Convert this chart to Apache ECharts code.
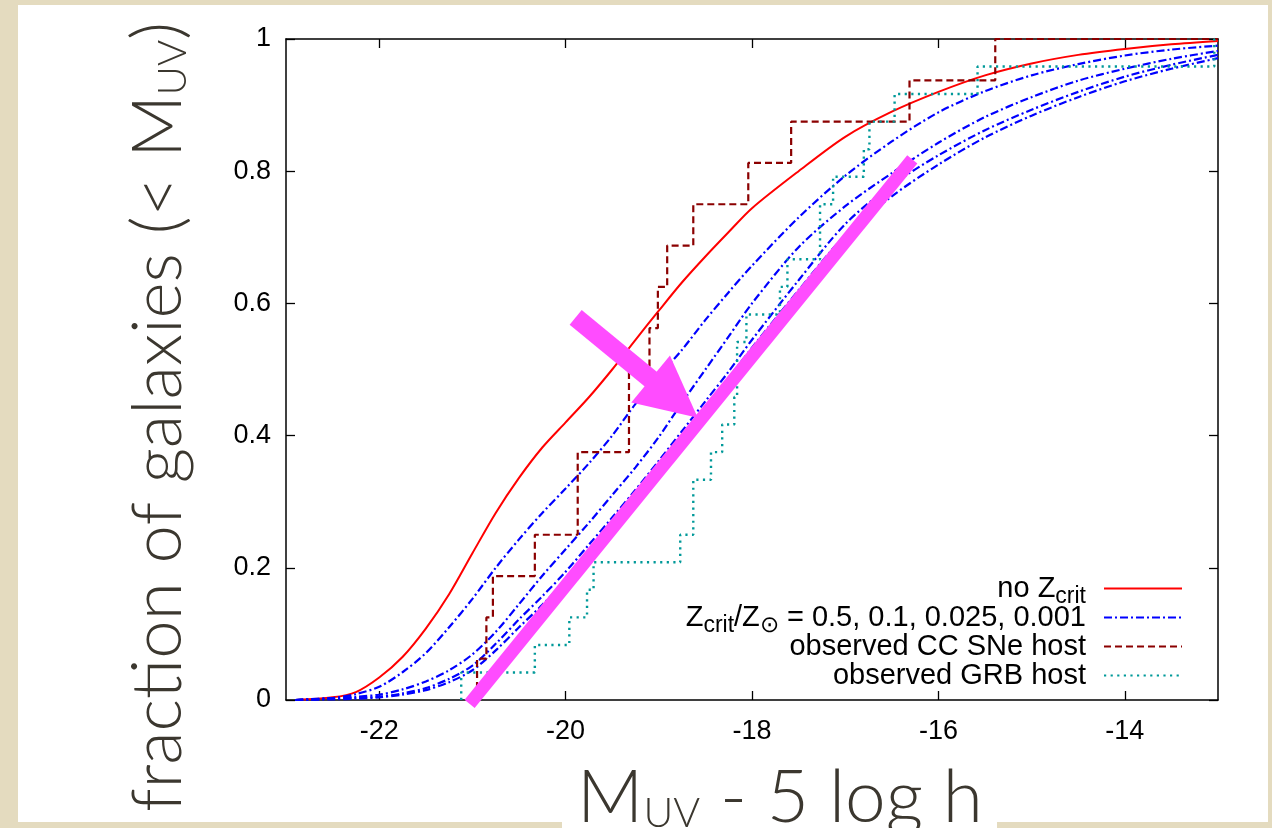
<!DOCTYPE html>
<html><head><meta charset="utf-8">
<script src="https://cdn.jsdelivr.net/npm/echarts@6/dist/echarts.min.js"></script>
<style>
html,body{margin:0;padding:0;width:1272px;height:828px;overflow:hidden;background:#e4dbbf;}
#panel{position:absolute;left:18px;top:5px;width:1250px;height:817px;background:#fff;}
#tbox{position:absolute;left:562px;top:790px;width:435px;height:38px;background:#fff;}
#chart{position:absolute;left:0;top:0;width:1272px;height:828px;}
</style></head><body>
<div id="panel"></div><div id="tbox"></div><div id="chart"></div>
<script>
// ---- data ----
const xTickValues = [-22, -20, -18, -16, -14];

// M_UV grid used for the model curves
const curveX = [-22.9,-22.5,-22.25,-22.0,-21.75,-21.5,-21.25,-21.0,-20.75,-20.5,-20.25,-20.0,-19.75,-19.5,-19.25,-19.0,-18.75,-18.5,-18.25,-18.0,-17.5,-17.0,-16.5,-16.0,-15.5,-15.0,-14.5,-14.0,-13.5,-13.0];

const noZcritY = [0,0.004,0.012,0.034,0.065,0.108,0.16,0.222,0.283,0.336,0.382,0.42,0.458,0.5,0.545,0.589,0.632,0.671,0.708,0.744,0.8,0.852,0.89,0.92,0.945,0.963,0.976,0.985,0.992,0.997];
const z05Y    = [0,0.003,0.009,0.02,0.042,0.071,0.11,0.153,0.2,0.243,0.283,0.32,0.358,0.4,0.448,0.49,0.53,0.575,0.617,0.657,0.73,0.793,0.845,0.889,0.921,0.945,0.962,0.975,0.984,0.99];
const z01Y    = [0,0.003,0.005,0.008,0.016,0.028,0.045,0.069,0.103,0.145,0.188,0.228,0.268,0.31,0.352,0.398,0.45,0.5,0.55,0.6,0.685,0.747,0.797,0.843,0.882,0.912,0.937,0.955,0.97,0.982];
const z0025Y  = [0,0.002,0.003,0.005,0.01,0.018,0.032,0.052,0.085,0.122,0.157,0.194,0.235,0.276,0.318,0.362,0.407,0.452,0.497,0.545,0.635,0.72,0.779,0.824,0.862,0.893,0.92,0.943,0.961,0.976];
const z0001Y  = [0,0.001,0.002,0.004,0.008,0.015,0.027,0.045,0.075,0.11,0.144,0.181,0.222,0.264,0.307,0.352,0.397,0.442,0.487,0.533,0.62,0.703,0.762,0.81,0.851,0.884,0.912,0.936,0.955,0.971];

const sneX = [-20.95,-20.85,-20.78,-20.33,-19.87,-19.87,-19.32,-19.32,-19.10,-19.01,-18.91,-18.63,-18.04,-17.58,-16.31,-15.39];
const sneY = [0.0625,0.125,0.1875,0.25,0.3125,0.375,0.4375,0.5,0.5625,0.625,0.6875,0.75,0.8125,0.875,0.9375,1.0];

const grbX = [-21.12,-20.33,-19.96,-19.77,-19.70,-18.77,-18.63,-18.63,-18.44,-18.32,-18.19,-18.16,-18.16,-18.06,-17.70,-17.62,-17.27,-17.27,-17.13,-16.80,-16.74,-16.47,-15.58,-13.04];
const grbY = [0.0417,0.0833,0.125,0.1667,0.2083,0.25,0.2917,0.3333,0.375,0.4167,0.4583,0.5,0.5417,0.5833,0.625,0.6667,0.7083,0.75,0.7917,0.8333,0.875,0.9167,0.9583,1.0];

// magenta annotations (data coordinates)
const annotLine = [[-21.03, -0.006], [-16.28, 0.818]];
const arrowStart = [-19.892, 0.5788];
const arrowEnd = [-18.835, 0.4564];

const X_MIN = -23, X_MAX = -13;

// ---- helpers ----
const pairs = (xs, ys) => xs.map((x, i) => [x, ys[i]]);
const stepData = (xs, ys) => [[xs[0], 0]].concat(pairs(xs, ys), [[X_MAX, ys[ys.length - 1]]]);

const legendText = {
  no: '{m|no Z}{s|crit}{g| }',
  zc: '{m|Z}{s|crit}{m|/Z}{s|\u2299}{m| = 0.5, 0.1, 0.025, 0.001}{g| }',
  sne: '{m|observed CC SNe host}{g| }',
  grb: '{m|observed GRB host}{g| }'
};

const LF = 'Liberation Sans, Arial, Helvetica, sans-serif';
const TF = 'Lato, Open Sans, sans-serif';
const TC = '#3b372f';
const blueStyle = { color: '#0000ff', width: 2.2, type: [8, 3, 2, 3] };

function curve(name, ys, style, z) {
  return { name: name, type: 'line', data: pairs(curveX, ys), symbol: 'none', smooth: 0.3,
    lineStyle: style, itemStyle: { color: style.color }, z: z, emphasis: { disabled: true } };
}

const axisLineStyle = { color: '#000', width: 1.5 };
const tickStyle = { color: '#000', width: 1.3 };

const option = {
  animation: false,
  grid: { left: 286, right: 54, top: 39, bottom: 128 },
  xAxis: [
    { type: 'value', min: X_MIN, max: X_MAX, position: 'bottom',
      axisLine: { show: true, onZero: false, lineStyle: axisLineStyle },
      axisTick: { show: true, inside: true, length: 9, customValues: xTickValues, lineStyle: tickStyle },
      axisLabel: { customValues: xTickValues, margin: 18, color: '#000', fontSize: 27, fontFamily: LF },
      splitLine: { show: false } },
    { type: 'value', min: X_MIN, max: X_MAX, position: 'top',
      axisLine: { show: true, onZero: false, lineStyle: axisLineStyle },
      axisTick: { show: true, inside: true, length: 9, customValues: xTickValues, lineStyle: tickStyle },
      axisLabel: { show: false }, splitLine: { show: false } }
  ],
  yAxis: [
    { type: 'value', min: 0, max: 1, interval: 0.2, position: 'left',
      axisLine: { show: true, onZero: false, lineStyle: axisLineStyle },
      axisTick: { show: true, inside: true, length: 9, lineStyle: tickStyle },
      axisLabel: { margin: 15, color: '#000', fontSize: 27, fontFamily: LF },
      splitLine: { show: false } },
    { type: 'value', min: 0, max: 1, interval: 0.2, position: 'right',
      axisLine: { show: true, onZero: false, lineStyle: axisLineStyle },
      axisTick: { show: true, inside: true, length: 9, lineStyle: tickStyle },
      axisLabel: { show: false }, splitLine: { show: false } }
  ],
  legend: {
    data: ['no', 'zc', 'sne', 'grb'], orient: 'vertical', align: 'right',
    right: 89, top: 574, padding: 0, itemWidth: 78, itemHeight: 14, itemGap: -5.5,
    selectedMode: false, formatter: n => legendText[n],
    itemStyle: { opacity: 0, borderWidth: 0 },
    textStyle: { color: '#000', rich: {
      m: { fontSize: 29, fontFamily: LF, lineHeight: 40, verticalAlign: 'middle', color: '#000' },
      s: { fontSize: 23, fontFamily: LF, lineHeight: 22, verticalAlign: 'bottom', color: '#000' },
      g: { width: 13, fontSize: 23, fontFamily: LF, lineHeight: 22, verticalAlign: 'bottom' }
    } }
  },
  graphic: [
    { type: 'text', x: 153, y: 417, rotation: Math.PI / 2, silent: true,
      style: { text: '{a|fraction of galaxies (< M}{b|UV}{a|)}', align: 'center', verticalAlign: 'middle',
        rich: {
          a: { fontSize: 69, fontFamily: TF, fontWeight: 300, lineHeight: 80, verticalAlign: 'bottom', fill: TC, color: TC },
          b: { fontSize: 40, fontFamily: TF, fontWeight: 300, lineHeight: 60, verticalAlign: 'bottom', fill: TC, color: TC }
        } } },
    { type: 'text', x: 780, y: 792.5, silent: true,
      style: { text: '{a|M}{b|UV}{a| - 5 log h}', align: 'center', verticalAlign: 'middle',
        rich: {
          a: { fontSize: 73, fontFamily: TF, fontWeight: 300, lineHeight: 84, verticalAlign: 'bottom', fill: TC, color: TC },
          b: { fontSize: 41, fontFamily: TF, fontWeight: 300, lineHeight: 62, verticalAlign: 'bottom', fill: TC, color: TC }
        } } }
  ],
  series: [
    curve('no', noZcritY, { color: '#ff0000', width: 2 }, 2),
    curve('zc', z05Y, blueStyle, 3),
    curve('zc', z01Y, blueStyle, 3),
    curve('zc', z0025Y, blueStyle, 3),
    curve('zc', z0001Y, blueStyle, 3),
    { name: 'sne', type: 'line', step: 'end', data: stepData(sneX, sneY), symbol: 'none',
      lineStyle: { color: '#8b0000', width: 2.2, type: [7, 4] }, itemStyle: { color: '#8b0000' }, z: 4, emphasis: { disabled: true } },
    { name: 'grb', type: 'line', step: 'end', data: stepData(grbX, grbY), symbol: 'none',
      lineStyle: { color: '#009999', width: 2.4, type: [2.2, 4.4] }, itemStyle: { color: '#009999' }, z: 5, emphasis: { disabled: true } },
    { name: 'annot', type: 'line', data: annotLine, symbol: 'none', clip: false, silent: true, z: 10,
      lineStyle: { color: '#ff4cff', width: 13, cap: 'butt' }, itemStyle: { color: '#ff4cff' }, emphasis: { disabled: true },
      markLine: { silent: true, symbol: ['none', 'triangle'], symbolSize: 61, animation: false,
        label: { show: false }, emphasis: { disabled: true },
        lineStyle: { color: '#ff4cff', width: 19, type: 'solid', cap: 'butt' },
        itemStyle: { color: '#ff4cff' },
        data: [[{ coord: arrowStart }, { coord: arrowEnd }]] } }
  ]
};

const chart = echarts.init(document.getElementById('chart'), null, { renderer: 'canvas' });
chart.setOption(option);
</script></body></html>
